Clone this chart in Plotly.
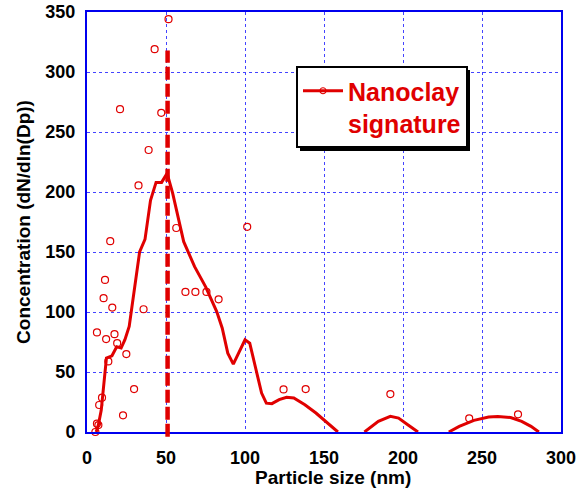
import plotly.graph_objects as go

# scattered raw measurements
pts_x = [51.6, 42.8, 20.9, 47.0, 39.0, 32.6, 56.5, 101.4, 14.7, 11.4, 10.5, 16.0, 35.8,
         62.3, 68.6, 75.6, 83.3, 6.3, 12.1, 17.4, 19.1, 24.9, 13.5, 29.8, 22.8, 9.5,
         7.7, 6.3, 7.2, 5.3, 124.4, 138.4, 192.0, 241.9, 272.8]
pts_y = [344, 319, 269, 266, 235, 205.5, 170, 171, 159, 126.7, 111.5, 103.7, 102.3,
         116.7, 116.7, 116.7, 110.6, 83, 77.4, 81.5, 74, 64.9, 58.8, 35.8, 13.9, 28.6,
         22.5, 6.9, 5.8, 0, 35.5, 35.8, 31.6, 11.4, 14.7]

# smoothed signature curve (None = gaps where curve lies on the axis)
line_x = [5.8, 7.2, 9.0, 12.3, 15.8, 18.8, 21.6, 24.0, 26.7, 29.8, 33.3, 36.7, 40.2, 43.7,
          47.2, 50.7, 54.2, 61.2, 64.7, 68.1, 75.1, 82.1, 85.6, 89.1, 92.6, 100.0, 103.0,
          106.5, 110.5, 113.5, 117.0, 121.6, 126.3, 130.9, 137.9, 144.9, 151.9, 158.8,
          None,
          175.6, 184.4, 192.0, 197.2, 203.0, 209.5,
          None,
          229.0, 235.6, 244.9, 254.2, 260.0, 268.1, 275.1, 281.0, 286.0]
line_y = [0, 6, 18, 61.6, 63.5, 71, 70, 77, 88, 115.6, 150, 160.5, 193, 208,
          208, 215.5, 199, 158.6, 147.5, 137.8, 121, 100.4, 86.5, 65.7, 56.6, 76.8, 74,
          54.6, 32.4, 24, 23.6, 27, 29, 28.3, 22.7, 15.8, 7.5, 0,
          None,
          0, 8.9, 13, 11.6, 6, 0,
          None,
          0, 4.7, 9.7, 12.5, 13, 12, 8.9, 4.7, 0]

marker_x = 51
marker_top = 318

x_ticks = [0, 50, 100, 150, 200, 250, 300]
y_ticks = [0, 50, 100, 150, 200, 250, 300, 350]

RED = "#e00000"
BLUE = "#0000ee"
GRID = "#4444ff"
FONT = "Liberation Sans, Arial, sans-serif"

fig = go.Figure()
fig.add_trace(go.Scatter(x=line_x, y=line_y, mode="lines", connectgaps=False,
                         line=dict(color=RED, width=3), showlegend=False))
fig.add_trace(go.Scatter(x=pts_x, y=pts_y, mode="markers", cliponaxis=False,
                         marker=dict(symbol="circle-open", size=7, color=RED,
                                     line=dict(width=1.2, color=RED)),
                         showlegend=False))
fig.add_trace(go.Scatter(x=[None], y=[None], mode="lines+markers",
                         name="Nanoclay<br>signature",
                         line=dict(color=RED, width=3),
                         marker=dict(symbol="circle-open", size=6, color=RED,
                                     line=dict(width=1.2, color=RED))))

ymax = 350
fig.add_shape(type="line", xref="x", yref="paper", x0=marker_x, x1=marker_x,
              y0=-4 / ymax, y1=marker_top / ymax,
              line=dict(color=RED, width=4.5, dash="13px,4px"), layer="above")

# legend shadow
fig.add_shape(type="rect", xref="paper", yref="paper",
              x0=(300 - 87) / 474, x1=(470 - 87) / 474,
              y0=(432 - 151) / 420, y1=(432 - 70) / 420,
              fillcolor="black", line=dict(width=0), layer="above")

axis_common = dict(showline=True, linecolor=BLUE, linewidth=2, mirror=True,
                   showgrid=True, gridcolor=GRID, griddash="dot", gridwidth=1,
                   zeroline=False, ticks="outside", tickcolor="rgba(0,0,0,0)",
                   automargin=False, ticklabeloverflow="allow",
                   tickfont=dict(family=FONT, size=18, color="black", weight="bold"))

fig.update_layout(
    width=576, height=490,
    margin=dict(l=87, r=15, t=12, b=58, autoexpand=False),
    paper_bgcolor="white", plot_bgcolor="white",
    font=dict(family=FONT),
    xaxis=dict(range=[0, 300.001], tickvals=x_ticks, ticklen=8, **axis_common),
    yaxis=dict(range=[0, 350], tickvals=y_ticks, ticklen=6,
               title=dict(text="Concentration (dN/dln(Dp))", standoff=10,
                          font=dict(family=FONT, size=19, color="black", weight="bold")),
               **axis_common),
    legend=dict(x=(296 - 87) / 474, y=(432 - 66) / 420, xanchor="left", yanchor="top",
                bgcolor="white", bordercolor="black", borderwidth=2, valign="top",
                font=dict(family=FONT, size=25, color=RED, weight="bold"),
                itemwidth=40),
    annotations=[dict(text="Particle size (nm)", xref="paper", yref="paper",
                      x=(333 - 87) / 474, y=(432 - 477) / 420,
                      xanchor="center", yanchor="middle", showarrow=False,
                      font=dict(family=FONT, size=19, color="black", weight="bold"))],
)

fig.write_html("out.html")
